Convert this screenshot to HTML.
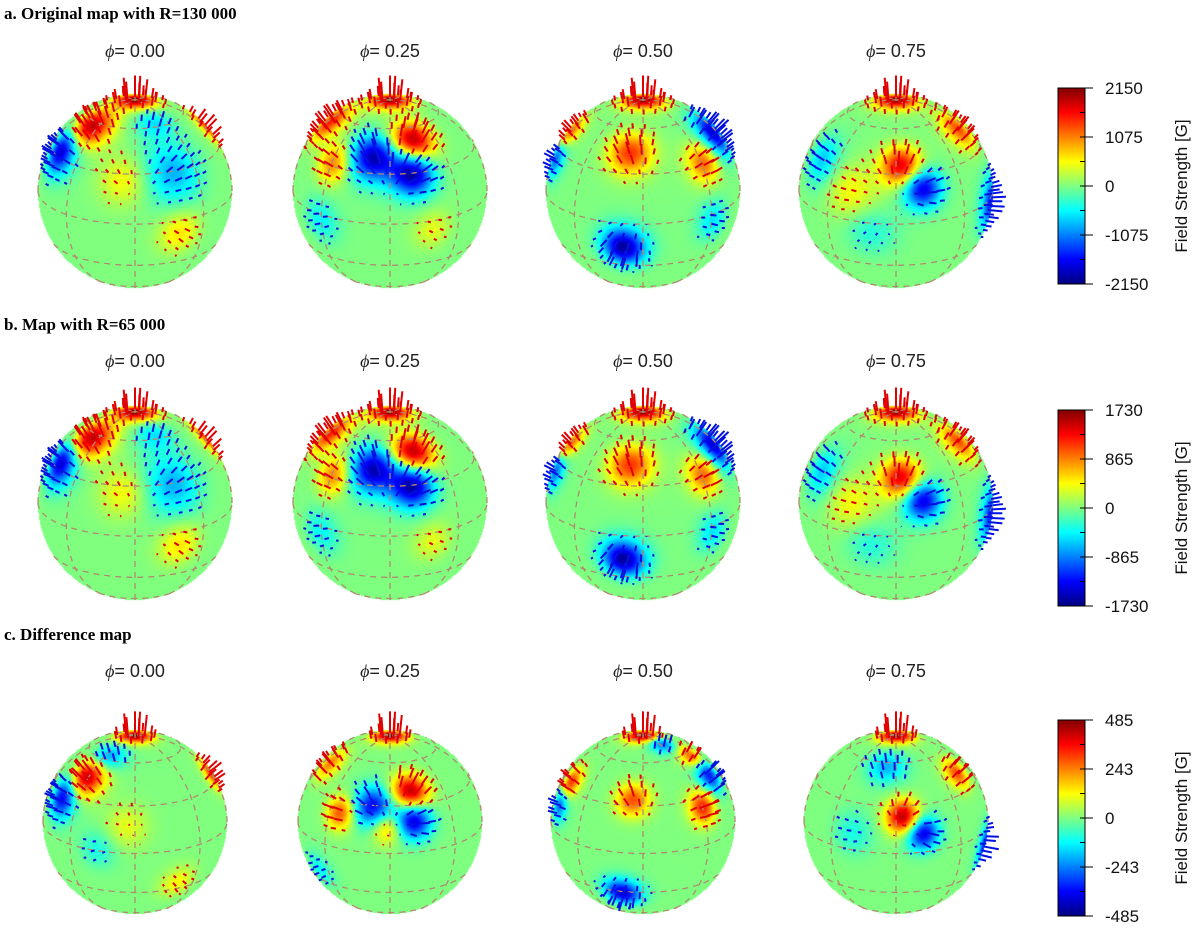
<!DOCTYPE html>
<html><head><meta charset="utf-8"><style>
body{margin:0;background:#fff;}
#wrap{position:relative;width:1200px;height:950px;}
#cv{position:absolute;left:0;top:0;}
svg{position:absolute;left:0;top:0;display:block;font-family:"Liberation Sans",sans-serif;}
.ttl{font-family:"Liberation Serif",serif;font-weight:bold;font-size:17px;}
</style></head><body>
<div id="wrap">
<canvas id="cv" width="1200" height="950"></canvas>
<svg id="fig" width="1200" height="950" viewBox="0 0 1200 950">
<defs id="defs"></defs>
<text class="ttl" x="4" y="19">a. Original map with R=130 000</text>
<text class="ttl" x="4" y="330">b. Map with R=65 000</text>
<text class="ttl" x="4" y="640">c. Difference map</text>
</svg></div>
<script>
const phases = ["0.00","0.25","0.50","0.75"];
const rowTicks = [["2150","1075","0","-1075","-2150"],["1730","865","0","-865","-1730"],["485","243","0","-243","-485"]];
// spots: [disk-x, disk-y (unit disk, y down), size(deg), value(-1..1)]
const spotsA0 = [[0,-0.94,9,1],[-0.46,-0.66,11,0.95],[-0.75,-0.42,11,-0.9],[0.74,-0.68,9,0.6],[0.39,-0.19,14,-0.4],[-0.12,-0.11,11,0.25],[0.46,0.43,10,0.3],[0.2,-0.7,9,-0.3]];
const spotsA1 = [[0,-0.94,9,1],[0.23,-0.52,10,0.95],[-0.17,-0.35,11,-0.9],[0.23,-0.18,10,-0.95],[-0.58,-0.29,9,0.5],[-0.61,-0.72,11,0.7],[-0.71,0.3,10,-0.25],[0.44,0.4,9,0.2]];
const spotsA2 = [[0,-0.94,9,1],[0.72,-0.6,11,-0.85],[-0.13,-0.39,10,0.65],[0.62,-0.29,9,0.55],[-0.75,-0.6,9,0.6],[-0.89,-0.35,9,-0.6],[-0.2,0.58,10,-0.95],[0.72,0.3,9,-0.3]];
const spotsA3 = [[0,-0.94,9,1],[0.06,-0.25,9,0.85],[0.27,-0.03,9,-0.85],[-0.76,-0.32,11,-0.35],[0.64,-0.64,10,0.6],[0.97,0.12,11,-0.7],[-0.45,0.02,13,0.25],[-0.27,0.4,12,-0.2]];
const spotsC0 = [[0,-0.94,8,1],[-0.52,-0.49,10,0.95],[-0.78,-0.27,10,-0.8],[0.82,-0.53,8,0.65],[-0.3,-0.7,9,-0.5],[-0.09,0.05,10,0.2],[0.46,0.66,9,0.25],[-0.41,0.3,9,-0.2]];
const spotsC1 = [[0,-0.94,8,1],[0.22,-0.32,9,0.95],[-0.18,-0.16,10,-0.8],[0.25,-0.02,9,-0.9],[-0.54,-0.1,8,0.6],[-0.03,0.05,8,0.5],[-0.65,-0.64,9,0.5],[-0.76,0.52,9,-0.25]];
const spotsC2 = [[0,-0.94,8,1],[-0.79,-0.42,8,0.7],[-0.9,-0.2,8,-0.6],[0.7,-0.53,9,-0.8],[0.54,-0.7,8,0.7],[0.65,-0.16,8,0.7],[-0.11,-0.24,8,0.6],[-0.22,0.77,9,-0.85],[0.2,-0.85,7,-0.6]];
const spotsC3 = [[0,-0.94,8,1],[0.08,-0.05,8,0.95],[0.29,0.12,8,-0.85],[0.97,0.25,9,-0.7],[0.66,-0.53,8,0.6],[-0.1,-0.6,9,-0.4],[-0.47,0.12,10,-0.2]];
const rowsSpots = [[spotsA0,spotsA1,spotsA2,spotsA3],[spotsA0,spotsA1,spotsA2,spotsA3],[spotsC0,spotsC1,spotsC2,spotsC3]];

const NS="http://www.w3.org/2000/svg";
const svg=document.getElementById('fig'), defs=document.getElementById('defs');
const ctx=document.getElementById('cv').getContext('2d');
function mk(t,a,p){const e=document.createElementNS(NS,t);for(const k in a)e.setAttribute(k,a[k]);(p||svg).appendChild(e);return e;}
function jetA(t){t=Math.max(0,Math.min(1,t));const c=x=>Math.round(255*Math.max(0,Math.min(1,x)));return [c(1.5-Math.abs(4*t-3)),c(1.5-Math.abs(4*t-2)),c(1.5-Math.abs(4*t-1))];}
function jet(t){const a=jetA(t);return `rgb(${a[0]},${a[1]},${a[2]})`;}
const inc=70*Math.PI/180, D=Math.PI/180, si=Math.sin(inc), ci=Math.cos(inc);
function proj(lat,lon){const cl=Math.cos(lat*D),sl=Math.sin(lat*D),c=Math.cos(lon*D),s=Math.sin(lon*D);
  return {x:cl*s, y:-cl*c*ci+sl*si, z:cl*c*si+sl*ci};}
function unproj(sx,sy){let d=sx*sx+sy*sy; if(d>0.98){const k=Math.sqrt(0.98/d);sx*=k;sy*=k;d=0.98;}
  const px=sx,py=-sy,pz=Math.sqrt(1-d);
  const a=py*si+pz*ci, e1=-py*ci+pz*si;
  return [Math.asin(Math.max(-1,Math.min(1,a)))/D, Math.atan2(px,e1)/D];}
function angd(a1,o1,a2,o2){const p=Math.sin(a1*D)*Math.sin(a2*D)+Math.cos(a1*D)*Math.cos(a2*D)*Math.cos((o1-o2)*D);return Math.acos(Math.max(-1,Math.min(1,p)))/D;}
function field(bl,lat,lon){let f=0;for(const b of bl){const d=angd(lat,lon,b[0],b[1]);const s=b[2]*1.3;f+=b[3]*Math.exp(-(d*d)/(s*s));}return Math.max(-1,Math.min(1,f));}
const centersX=[135,390,643,896], centersY=[191,503,822], radii=[97,97,92], labelY=[57,367,677];
const img=ctx.createImageData(1200,950);
rowsSpots.forEach((row,ri)=>{
  row.forEach((sp0,sidx)=>{
    const bl=sp0.map(s=>{const ll=unproj(s[0],s[1]);return [ll[0],ll[1],s[2],s[3]];});
    const cx=centersX[sidx], cy=centersY[ri], R=radii[ri];
    for(let py=Math.floor(cy-R);py<=cy+R;py++)for(let px=Math.floor(cx-R);px<=cx+R;px++){
      const sx=(px+0.5-cx)/R, sy=(py+0.5-cy)/R, d=sx*sx+sy*sy; if(d>1)continue;
      const ll=unproj(sx,sy); const f=field(bl,ll[0],ll[1]); const c=jetA(0.5+0.5*f);
      const k=(py*1200+px)*4; img.data[k]=c[0];img.data[k+1]=c[1];img.data[k+2]=c[2];img.data[k+3]=255;}
    const g=mk('g',{});
    
    
    const lab=mk('text',{x:cx,y:labelY[ri],'font-size':18,'text-anchor':'middle',fill:'#222'},g);
    lab.innerHTML='<tspan font-family="Liberation Serif" font-style="italic">ϕ</tspan>= '+phases[sidx];
    
    
    const grid=mk('g',{fill:'none',stroke:'#b08a70','stroke-width':1.3,'stroke-dasharray':'6 5'},g);
    
    
    function poly(pts){let d='',on=false;pts.forEach(p=>{if(p.z>0){d+=(on?'L':'M')+(cx+R*p.x).toFixed(1)+' '+(cy-R*p.y).toFixed(1);on=true;}else on=false;});if(d)mk('path',{d:d},grid);}
    [-60,-30,0,30,60].forEach(la=>{const pts=[];for(let o=-180;o<=180;o+=3)pts.push(proj(la,o));poly(pts);});
    for(let o=-180;o<180;o+=45){const pts=[];for(let la=-90;la<=90;la+=3)pts.push(proj(la,o));poly(pts);}
    const spg=mk('g',{'stroke-width':2},g);
    
    
    for(let la=-60;la<=88;la+=6){const step=Math.max(6,7/Math.max(0.1,Math.cos(la*D)));
      for(let o=-180;o<180;o+=step){const p=proj(la,o); if(p.z<0.03)continue;
        const f=field(bl,la,o); if(Math.abs(f)<0.06)continue;
        const L=(la>80?22:24*Math.abs(f))+2, h=Math.hypot(p.x,p.y), n=h+0.2;
        const x0=cx+R*p.x,y0=cy-R*p.y;
        mk('line',{x1:x0,y1:y0,x2:x0+L*p.x/n,y2:y0-L*p.y/n-1.5,stroke:f>0?'#e00000':'#0010e0'},spg);
      }}
  });
  const top=[88,410,720][ri], h=196, x0=1058, w=27;
  const cb=mk('g',{});  
  const id='cb'+ri; const lg=mk('linearGradient',{id:id,x1:0,y1:1,x2:0,y2:0},defs);
  for(let i=0;i<=8;i++)mk('stop',{offset:(i*12.5)+'%','stop-color':jet(i/8)},lg);
  mk('rect',{x:x0,y:top,width:w,height:h,fill:`url(#${id})`,stroke:'#000','stroke-width':1},cb);
  for(let i=0;i<=8;i++){const y=top+h*i/8;mk('line',{x1:x0+w-5,x2:x0+w,y1:y,y2:y,stroke:'#000'},cb);
    if(i%2==0){mk('line',{x1:x0+w,x2:x0+w+8,y1:y,y2:y,stroke:'#000'},cb);
      const t=mk('text',{x:x0+w+20,y:y+6,'font-size':17,fill:'#111'},cb);t.textContent=rowTicks[ri][i/2];
      
      }}
  const tt=mk('text',{x:0,y:0,'font-size':17,fill:'#111','text-anchor':'middle',transform:`translate(1187,${top+h/2}) rotate(-90)`},cb);
  tt.textContent='Field Strength [G]';
  
  
});
ctx.putImageData(img,0,0);
</script>
</body></html>
